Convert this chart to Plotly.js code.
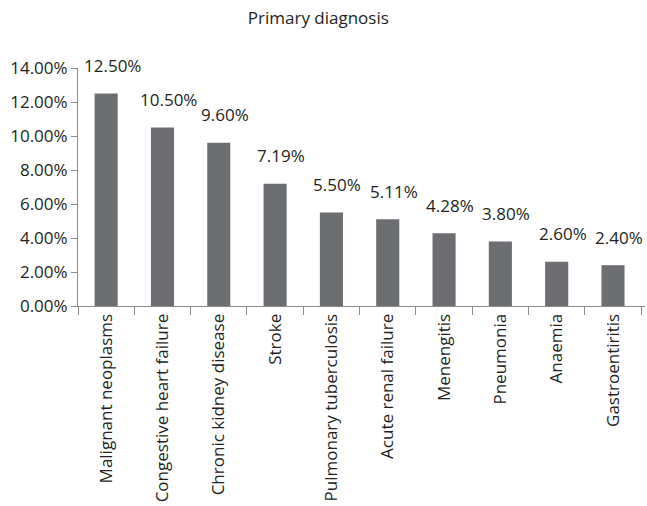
<!DOCTYPE html>
<html>
<head>
<meta charset="utf-8">
<script src="https://cdn.plot.ly/plotly-3.0.1.min.js"></script>
<style>
  html, body { margin: 0; padding: 0; background: #fff; }
  #chart { width: 647px; height: 506px; }
</style>
</head>
<body>
<div id="chart"></div>
<script>
// Share of admissions by primary diagnosis (percent)
const diagnoses = [
  "Malignant neoplasms",
  "Congestive heart failure",
  "Chronic kidney disease",
  "Stroke",
  "Pulmonary tuberculosis",
  "Acute renal failure",
  "Menengitis",
  "Pneumonia",
  "Anaemia",
  "Gastroentiritis"
];
const shares = [12.50, 10.50, 9.60, 7.19, 5.50, 5.11, 4.28, 3.80, 2.60, 2.40];
const yTickValues = [0, 2, 4, 6, 8, 10, 12, 14];

const fontFamily = "'Open Sans', 'Liberation Sans', sans-serif";
const textColor = "#231f20";
const axisColor = "#8a8a8a";

const bars = {
  type: "bar",
  x: diagnoses,
  y: shares,
  marker: { color: "#6d6e71" },
  hoverinfo: "x+y"
};

// value labels floating above each bar
const valueLabels = diagnoses.map((d, i) => ({
  x: d,
  y: shares[i],
  xref: "x",
  yref: "y",
  text: shares[i].toFixed(2) + "%",
  showarrow: false,
  xanchor: "center",
  yanchor: "middle",
  xshift: 6,
  yshift: 28,
  font: { family: fontFamily, size: 17, color: textColor }
}));

const layout = {
  width: 647,
  height: 506,
  margin: { l: 78, r: 2, t: 68, b: 200 },
  paper_bgcolor: "#ffffff",
  plot_bgcolor: "#ffffff",
  showlegend: false,
  bargap: 0.59,
  font: { family: fontFamily, color: textColor },
  title: {
    text: "Primary diagnosis",
    x: 0.492,
    xanchor: "center",
    y: 0.964,
    yanchor: "middle",
    font: { family: fontFamily, size: 17, color: textColor }
  },
  xaxis: {
    type: "category",
    showline: true,
    linecolor: axisColor,
    linewidth: 1,
    ticks: "outside",
    tickson: "boundaries",
    ticklen: 8,
    tickcolor: axisColor,
    tickangle: -90,
    tickfont: { family: fontFamily, size: 17, color: textColor },
    showgrid: false,
    zeroline: false
  },
  yaxis: {
    range: [0, 14],
    tickvals: yTickValues,
    ticktext: yTickValues.map(v => v.toFixed(2) + "%"),
    showline: true,
    linecolor: axisColor,
    linewidth: 1,
    ticks: "outside",
    ticklen: 6,
    tickcolor: axisColor,
    tickfont: { family: fontFamily, size: 17, color: textColor },
    showgrid: false,
    zeroline: false
  },
  annotations: valueLabels
};

Plotly.newPlot("chart", [bars], layout, { displayModeBar: false, staticPlot: true });
</script>
</body>
</html>
